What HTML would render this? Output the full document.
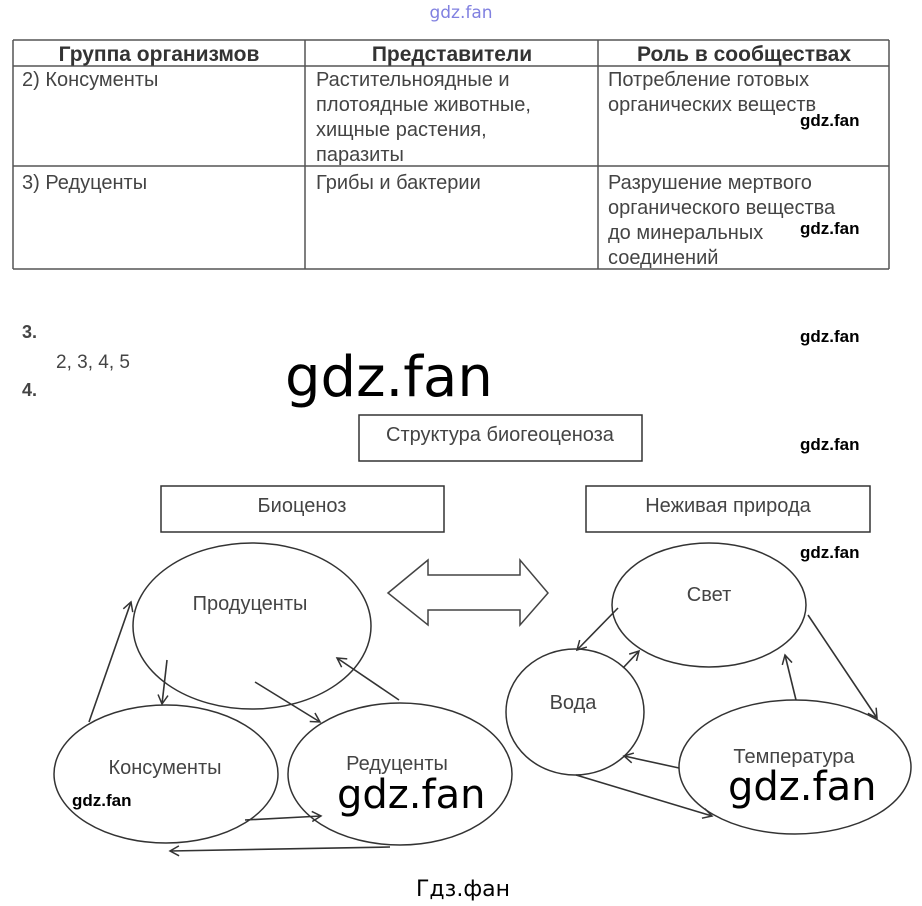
<!DOCTYPE html>
<html><head><meta charset="utf-8"><style>
html,body{margin:0;padding:0;background:#fff;}
svg{display:block;}
.t{font-family:"Liberation Sans","DejaVu Sans",sans-serif;fill:#444;}
.w{font-family:"DejaVu Sans","Liberation Sans",sans-serif;fill:#000;}
.s{font-family:"Liberation Sans",sans-serif;fill:#000;}
</style></head><body>
<svg width="922" height="906" viewBox="0 0 922 906" xmlns="http://www.w3.org/2000/svg">
<defs><marker id="a" markerWidth="12" markerHeight="12" refX="10" refY="6" orient="auto" markerUnits="userSpaceOnUse"><path d="M1,1 L10,6 L1,11" fill="none" stroke="#333" stroke-width="1.5"/></marker></defs>
<text x="461" y="18" text-anchor="middle" class="w" style="font-size:17px;fill:#8080e0">gdz.fan</text>
<g stroke="#555" stroke-width="1.5" fill="none">
<line x1="13" y1="40" x2="889" y2="40"/>
<line x1="13" y1="66" x2="889" y2="66"/>
<line x1="13" y1="166" x2="889" y2="166"/>
<line x1="13" y1="269" x2="889" y2="269"/>
<line x1="13" y1="40" x2="13" y2="269"/>
<line x1="305" y1="40" x2="305" y2="269"/>
<line x1="598" y1="40" x2="598" y2="269"/>
<line x1="889" y1="40" x2="889" y2="269"/>
</g>
<g class="t" style="font-size:21px;font-weight:bold;fill:#333" text-anchor="middle">
<text x="159" y="61">Группа организмов</text>
<text x="452" y="61">Представители</text>
<text x="744" y="61">Роль в сообществах</text>
</g>
<g class="t" style="font-size:20px">
<text x="22" y="86">2) Консументы</text>
<text x="316" y="86">Растительноядные и</text>
<text x="316" y="111">плотоядные животные,</text>
<text x="316" y="136">хищные растения,</text>
<text x="316" y="161">паразиты</text>
<text x="608" y="86">Потребление готовых</text>
<text x="608" y="111">органических веществ</text>
<text x="22" y="189">3) Редуценты</text>
<text x="316" y="189">Грибы и бактерии</text>
<text x="608" y="189">Разрушение мертвого</text>
<text x="608" y="214">органического вещества</text>
<text x="608" y="239">до минеральных</text>
<text x="608" y="264">соединений</text>
</g>
<g class="s" style="font-size:17px;font-weight:bold">
<text x="800" y="126">gdz.fan</text>
<text x="800" y="234">gdz.fan</text>
<text x="800" y="342">gdz.fan</text>
<text x="800" y="450">gdz.fan</text>
<text x="800" y="558">gdz.fan</text>
<text x="72" y="806">gdz.fan</text>
</g>
<text x="22" y="338" class="t" style="font-size:18px;font-weight:bold">3.</text>
<text x="56" y="368" class="t" style="font-size:19px">2, 3, 4, 5</text>
<text x="22" y="396" class="t" style="font-size:18px;font-weight:bold">4.</text>
<text x="285" y="396" class="w" style="font-size:56px">gdz.fan</text>
<g fill="none" stroke="#333" stroke-width="1.5">
<rect x="359" y="415" width="283" height="46"/>
<rect x="161" y="486" width="283" height="46"/>
<rect x="586" y="486" width="284" height="46"/>
<ellipse cx="252" cy="626" rx="119" ry="83"/>
<ellipse cx="166" cy="774" rx="112" ry="69"/>
<ellipse cx="400" cy="774" rx="112" ry="71"/>
<ellipse cx="709" cy="605" rx="97" ry="62"/>
<ellipse cx="575" cy="712" rx="69" ry="63"/>
<ellipse cx="795" cy="767" rx="116" ry="67"/>
<path d="M388,593 L428,560 L428,575 L520,575 L520,560 L548,593 L520,625 L520,610 L428,610 L428,625 Z" stroke="#444"/>
</g>
<g class="t" style="font-size:20px" text-anchor="middle">
<text x="500" y="441">Структура биогеоценоза</text>
<text x="302" y="512">Биоценоз</text>
<text x="728" y="512">Неживая природа</text>
<text x="250" y="610">Продуценты</text>
<text x="165" y="774">Консументы</text>
<text x="397" y="770">Редуценты</text>
<text x="709" y="601">Свет</text>
<text x="573" y="709">Вода</text>
<text x="794" y="763">Температура</text>
</g>
<g stroke="#333" stroke-width="1.6" marker-end="url(#a)">
<line x1="89" y1="722" x2="131" y2="602"/>
<line x1="167" y1="660" x2="162" y2="704"/>
<line x1="255" y1="682" x2="320" y2="722"/>
<line x1="399" y1="700" x2="337" y2="658"/>
<line x1="245" y1="820" x2="321" y2="816"/>
<line x1="390" y1="847" x2="170" y2="851"/>
<line x1="618" y1="608" x2="577" y2="650"/>
<line x1="623" y1="668" x2="639" y2="651"/>
<line x1="796" y1="700" x2="785" y2="655"/>
<line x1="808" y1="615" x2="877" y2="718"/>
<line x1="679" y1="768" x2="624" y2="756"/>
<line x1="576" y1="775" x2="712" y2="816"/>
</g>
<text x="337" y="808" class="w" style="font-size:40px">gdz.fan</text>
<text x="728" y="800" class="w" style="font-size:40px">gdz.fan</text>
<text x="463" y="896" class="w" text-anchor="middle" style="font-size:22px">Гдз.фан</text>
</svg>
</body></html>
